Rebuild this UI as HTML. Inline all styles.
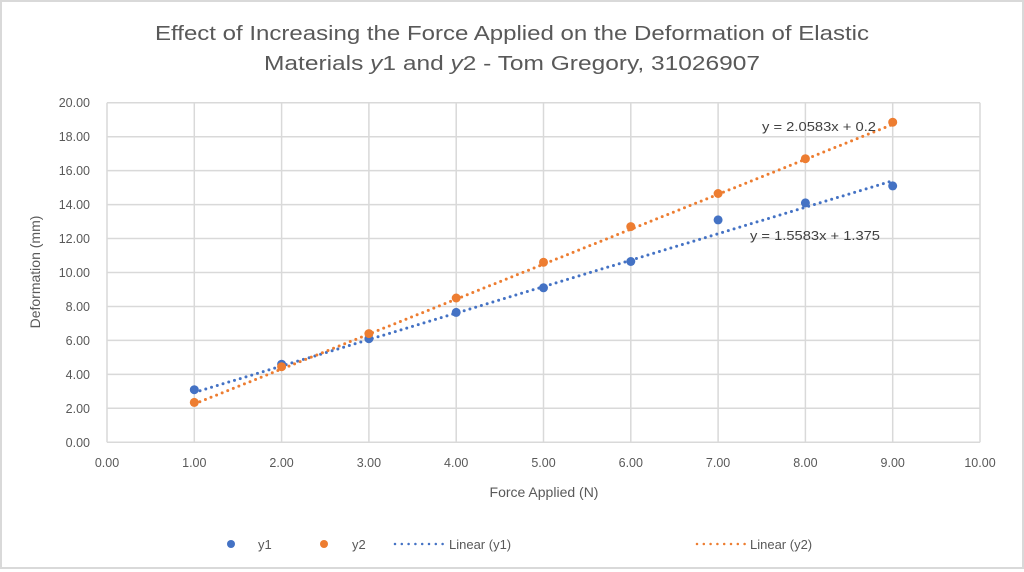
<!DOCTYPE html>
<html><head><meta charset="utf-8"><style>
html,body{margin:0;padding:0;background:#fff;}
svg{display:block;font-family:"Liberation Sans",sans-serif;}
</style></head><body>
<svg width="1024" height="572" viewBox="0 0 1024 572" xmlns="http://www.w3.org/2000/svg">
<rect x="0" y="0" width="1024" height="572" fill="#fff"/>
<rect x="1" y="1" width="1022" height="567" fill="none" stroke="#d9d9d9" stroke-width="2"/>
<text x="512" y="40" font-size="20" fill="#595959" text-anchor="middle" textLength="714" lengthAdjust="spacingAndGlyphs">Effect of Increasing the Force Applied on the Deformation of Elastic</text>
<text x="512" y="70" font-size="20" fill="#595959" text-anchor="middle" textLength="496" lengthAdjust="spacingAndGlyphs">Materials <tspan font-style="italic">y</tspan>1 and <tspan font-style="italic">y</tspan>2 - Tom Gregory, 31026907</text>
<g stroke="#d9d9d9" stroke-width="1.5">
<line x1="107" y1="102.7" x2="107" y2="442.3"/><line x1="194.3" y1="102.7" x2="194.3" y2="442.3"/><line x1="281.6" y1="102.7" x2="281.6" y2="442.3"/><line x1="368.9" y1="102.7" x2="368.9" y2="442.3"/><line x1="456.2" y1="102.7" x2="456.2" y2="442.3"/><line x1="543.5" y1="102.7" x2="543.5" y2="442.3"/><line x1="630.8" y1="102.7" x2="630.8" y2="442.3"/><line x1="718.1" y1="102.7" x2="718.1" y2="442.3"/><line x1="805.4" y1="102.7" x2="805.4" y2="442.3"/><line x1="892.7" y1="102.7" x2="892.7" y2="442.3"/><line x1="980" y1="102.7" x2="980" y2="442.3"/>
<line x1="107" y1="442.3" x2="980" y2="442.3"/><line x1="107" y1="408.3" x2="980" y2="408.3"/><line x1="107" y1="374.4" x2="980" y2="374.4"/><line x1="107" y1="340.4" x2="980" y2="340.4"/><line x1="107" y1="306.5" x2="980" y2="306.5"/><line x1="107" y1="272.5" x2="980" y2="272.5"/><line x1="107" y1="238.5" x2="980" y2="238.5"/><line x1="107" y1="204.6" x2="980" y2="204.6"/><line x1="107" y1="170.6" x2="980" y2="170.6"/><line x1="107" y1="136.7" x2="980" y2="136.7"/><line x1="107" y1="102.7" x2="980" y2="102.7"/>
</g>
<g font-size="12.5" fill="#595959" text-anchor="end">
<text x="90" y="447">0.00</text><text x="90" y="413">2.00</text><text x="90" y="379">4.00</text><text x="90" y="345">6.00</text><text x="90" y="311">8.00</text><text x="90" y="277">10.00</text><text x="90" y="243">12.00</text><text x="90" y="209">14.00</text><text x="90" y="175">16.00</text><text x="90" y="141">18.00</text><text x="90" y="107">20.00</text>
</g>
<g font-size="12.5" fill="#595959" text-anchor="middle">
<text x="107" y="467">0.00</text><text x="194.3" y="467">1.00</text><text x="281.6" y="467">2.00</text><text x="368.9" y="467">3.00</text><text x="456.2" y="467">4.00</text><text x="543.5" y="467">5.00</text><text x="630.8" y="467">6.00</text><text x="718.1" y="467">7.00</text><text x="805.4" y="467">8.00</text><text x="892.7" y="467">9.00</text><text x="980" y="467">10.00</text>
<text x="544" y="497" font-size="14">Force Applied (N)</text>
<text transform="translate(40,272) rotate(-90)" font-size="14">Deformation (mm)</text>
</g>
<line x1="194.3" y1="392.5" x2="892.7" y2="180.8" stroke="#4472c4" stroke-width="3" stroke-linecap="round" stroke-dasharray="0 6"/>
<line x1="194.3" y1="404.0" x2="892.7" y2="124.4" stroke="#ed7d31" stroke-width="3" stroke-linecap="round" stroke-dasharray="0 6"/>
<g fill="#4472c4">
<circle cx="194.3" cy="389.7" r="4.5"/><circle cx="281.6" cy="364.2" r="4.5"/><circle cx="368.9" cy="338.7" r="4.5"/><circle cx="456.2" cy="312.4" r="4.5"/><circle cx="543.5" cy="287.8" r="4.5"/><circle cx="630.8" cy="261.5" r="4.5"/><circle cx="718.1" cy="219.9" r="4.5"/><circle cx="805.4" cy="202.9" r="4.5"/><circle cx="892.7" cy="185.9" r="4.5"/>
</g>
<g fill="#ed7d31">
<circle cx="194.3" cy="402.4" r="4.5"/><circle cx="281.6" cy="366.7" r="4.5"/><circle cx="368.9" cy="333.6" r="4.5"/><circle cx="456.2" cy="298.0" r="4.5"/><circle cx="543.5" cy="262.3" r="4.5"/><circle cx="630.8" cy="226.6" r="4.5"/><circle cx="718.1" cy="193.5" r="4.5"/><circle cx="805.4" cy="158.7" r="4.5"/><circle cx="892.7" cy="122.2" r="4.5"/>
</g>
<text x="762" y="131" font-size="12.5" fill="#404040" textLength="114" lengthAdjust="spacingAndGlyphs">y = 2.0583x + 0.2</text>
<text x="750" y="240" font-size="12.5" fill="#404040" textLength="130" lengthAdjust="spacingAndGlyphs">y = 1.5583x + 1.375</text>
<g font-size="13" fill="#595959">
<circle cx="231" cy="544" r="4" fill="#4472c4"/>
<text x="258" y="549">y1</text>
<circle cx="324" cy="544" r="4" fill="#ed7d31"/>
<text x="352" y="549">y2</text>
<line x1="395" y1="544" x2="443" y2="544" stroke="#4472c4" stroke-width="2.5" stroke-linecap="round" stroke-dasharray="0 6.8"/>
<text x="449" y="549">Linear (y1)</text>
<line x1="697" y1="544" x2="745" y2="544" stroke="#ed7d31" stroke-width="2.5" stroke-linecap="round" stroke-dasharray="0 6.8"/>
<text x="750" y="549">Linear (y2)</text>
</g>
</svg>
</body></html>
